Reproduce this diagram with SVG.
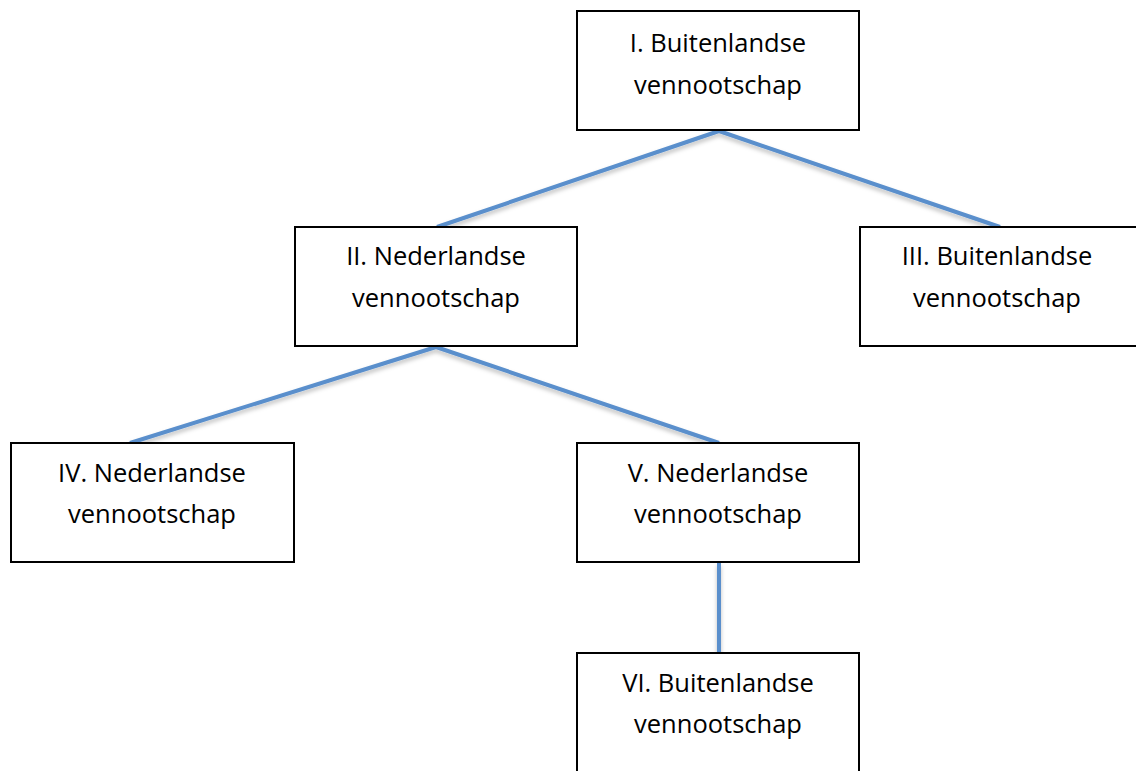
<svg xmlns="http://www.w3.org/2000/svg" width="1136" height="771" viewBox="0 0 1136 771">
<defs>
<filter id="sh" x="-10%" y="-10%" width="120%" height="130%">
<feDropShadow dx="0" dy="3" stdDeviation="2" flood-color="#000" flood-opacity="0.25"/>
</filter>
<style>
.box{fill:#fff;stroke:#000;stroke-width:2}
.t{font-family:"Open Sans","Liberation Sans",sans-serif;font-size:25.5px;fill:#000;text-anchor:middle}
.c{stroke:#5A8FCC;stroke-width:4;fill:none;stroke-linecap:butt}
</style>
</defs>
<rect width="1136" height="771" fill="#fff"/>
<g id="connectors" filter="url(#sh)">
<line class="c" x1="719" y1="131" x2="437" y2="227"/>
<line class="c" x1="719" y1="131" x2="1000" y2="227"/>
<line class="c" x1="436" y1="347" x2="130" y2="443"/>
<line class="c" x1="436" y1="347" x2="719" y2="443"/>
<line class="c" x1="719" y1="563" x2="719" y2="658"/>
</g>
<g id="n1"><rect class="box" x="577" y="11" width="282" height="119"/><text class="t" x="718" y="52">I. Buitenlandse</text><text class="t" x="718" y="94">vennootschap</text></g>
<g id="n2"><rect class="box" x="295" y="227" width="282" height="119"/><text class="t" x="436" y="265">II. Nederlandse</text><text class="t" x="436" y="307">vennootschap</text></g>
<g id="n3"><rect class="box" x="860" y="227" width="282" height="119"/><text class="t" x="997" y="265">III. Buitenlandse</text><text class="t" x="997" y="307">vennootschap</text></g>
<g id="n4"><rect class="box" x="11" y="443" width="283" height="119"/><text class="t" x="152" y="482">IV. Nederlandse</text><text class="t" x="152" y="523">vennootschap</text></g>
<g id="n5"><rect class="box" x="577" y="443" width="282" height="119"/><text class="t" x="718" y="482">V. Nederlandse</text><text class="t" x="718" y="523">vennootschap</text></g>
<g id="n6"><rect class="box" x="577" y="653" width="282" height="130"/><text class="t" x="718" y="692">VI. Buitenlandse</text><text class="t" x="718" y="733">vennootschap</text></g>
</svg>
